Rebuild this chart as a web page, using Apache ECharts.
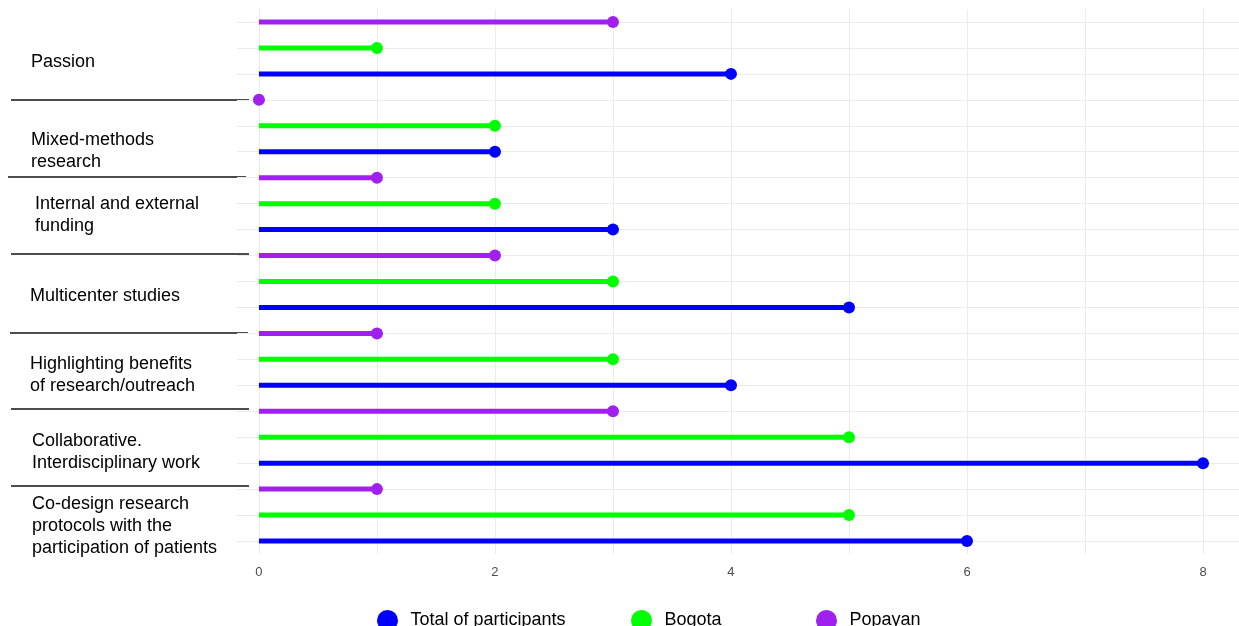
<!DOCTYPE html>
<html>
<head>
<meta charset="utf-8">
<script src="https://cdn.jsdelivr.net/npm/echarts@6/dist/echarts.min.js"></script>
<style>
html,body{margin:0;padding:0;background:#fff;}
#chart{width:1239px;height:626px;}
</style>
</head>
<body>
<div id="chart"></div>
<script>
// ---- data ----
const groups = [
  "Passion",
  "Mixed-methods\nresearch",
  "Internal and external\nfunding",
  "Multicenter studies",
  "Highlighting benefits\nof research/outreach",
  "Collaborative.\nInterdisciplinary work",
  "Co-design research\nprotocols with the\nparticipation of patients"
];
const seriesNames = ["Total of participants", "Bogota", "Popayan"];
const totalValues   = [4, 2, 3, 5, 4, 8, 6];
const bogotaValues  = [1, 2, 2, 3, 3, 5, 5];
const popayanValues = [3, 0, 1, 2, 1, 3, 1];
const xTickValues = [0, 1, 2, 3, 4, 5, 6, 7, 8];
const xLabelValues = [0, 2, 4, 6, 8];

// ---- styling ----
const colors = ["#0000FF", "#00FF00", "#A020F0"];
// within each group, rows from top: Popayan, Bogota, Total
const rowOffset = [2, 1, 0];
const valuesBySeries = [totalValues, bogotaValues, popayanValues];
const nRows = groups.length * 3;
const rowIndices = Array.from({length: nRows}, (_, i) => i);

function lollipop(color) {
  return function (params, api) {
    const v = api.value(0), r = api.value(1);
    const p0 = api.coord([0, r]);
    const p1 = api.coord([v, r]);
    return {
      type: 'group',
      children: [
        {type: 'line', shape: {x1: p0[0], y1: p0[1], x2: p1[0], y2: p1[1]},
         style: {stroke: color, lineWidth: 5, lineCap: 'butt'}},
        {type: 'circle', shape: {cx: p1[0], cy: p1[1], r: 6},
         style: {fill: color}}
      ]
    };
  };
}

const series = seriesNames.map((name, s) => ({
  name: name,
  type: 'custom',
  coordinateSystem: 'cartesian2d',
  itemStyle: {color: colors[s]},
  renderItem: lollipop(colors[s]),
  encode: {x: 0, y: 1},
  data: valuesBySeries[s].map((v, g) => [v, g * 3 + rowOffset[s]]),
  silent: true,
  clip: false
}));

// group label positions (pixel layout annotations)
const labelPos = [
  [31, 62], [31, 151], [35, 215], [30, 296], [30, 375], [32, 452], [32, 526]
];
const sepLines = [
  [11, 249, 100], [8, 246, 177], [11, 249, 254], [10, 248, 333], [11, 249, 409], [11, 249, 486]
];
const graphicEls = groups.map((g, i) => ({
  type: 'text',
  x: labelPos[i][0], y: labelPos[i][1],
  style: {text: g, fill: '#000', font: '18px "Liberation Sans", Arial, sans-serif',
          lineHeight: 22, verticalAlign: 'middle', align: 'left'}
})).concat(sepLines.map(l => ({
  type: 'line',
  shape: {x1: l[0], y1: l[2], x2: l[1], y2: l[2]},
  style: {stroke: '#111', lineWidth: 1.3}
})));

const legendLefts = [372, 626, 811];
const legends = seriesNames.map((n, i) => ({
  data: [n],
  left: legendLefts[i],
  top: 605,
  icon: 'circle',
  itemWidth: 36,
  itemHeight: 21,
  textStyle: {fontSize: 18, color: '#000', fontFamily: '"Liberation Sans", Arial, sans-serif'},
  selectedMode: false
}));

const chart = echarts.init(document.getElementById('chart'), null, {renderer: 'canvas'});
chart.setOption({
  backgroundColor: '#fff',
  animation: false,
  color: colors,
  grid: {left: 237, right: 0, top: 9, bottom: 72, containLabel: false},
  xAxis: {
    type: 'value',
    min: -0.186, max: 8.305,
    axisLine: {show: false},
    axisTick: {show: false, customValues: xTickValues},
    axisLabel: {customValues: xLabelValues, color: '#4d4d4d', fontSize: 13,
                fontFamily: '"Liberation Sans", Arial, sans-serif', margin: 12},
    splitLine: {show: true, lineStyle: {color: '#ebebeb', width: 1}}
  },
  yAxis: {
    type: 'value',
    inverse: true,
    min: -0.5, max: 20.5,
    axisLine: {show: false},
    axisTick: {show: false, customValues: rowIndices},
    axisLabel: {show: false, customValues: rowIndices},
    splitLine: {show: true, lineStyle: {color: '#ebebeb', width: 1}}
  },
  legend: legends,
  graphic: graphicEls,
  series: series
});
</script>
</body>
</html>
